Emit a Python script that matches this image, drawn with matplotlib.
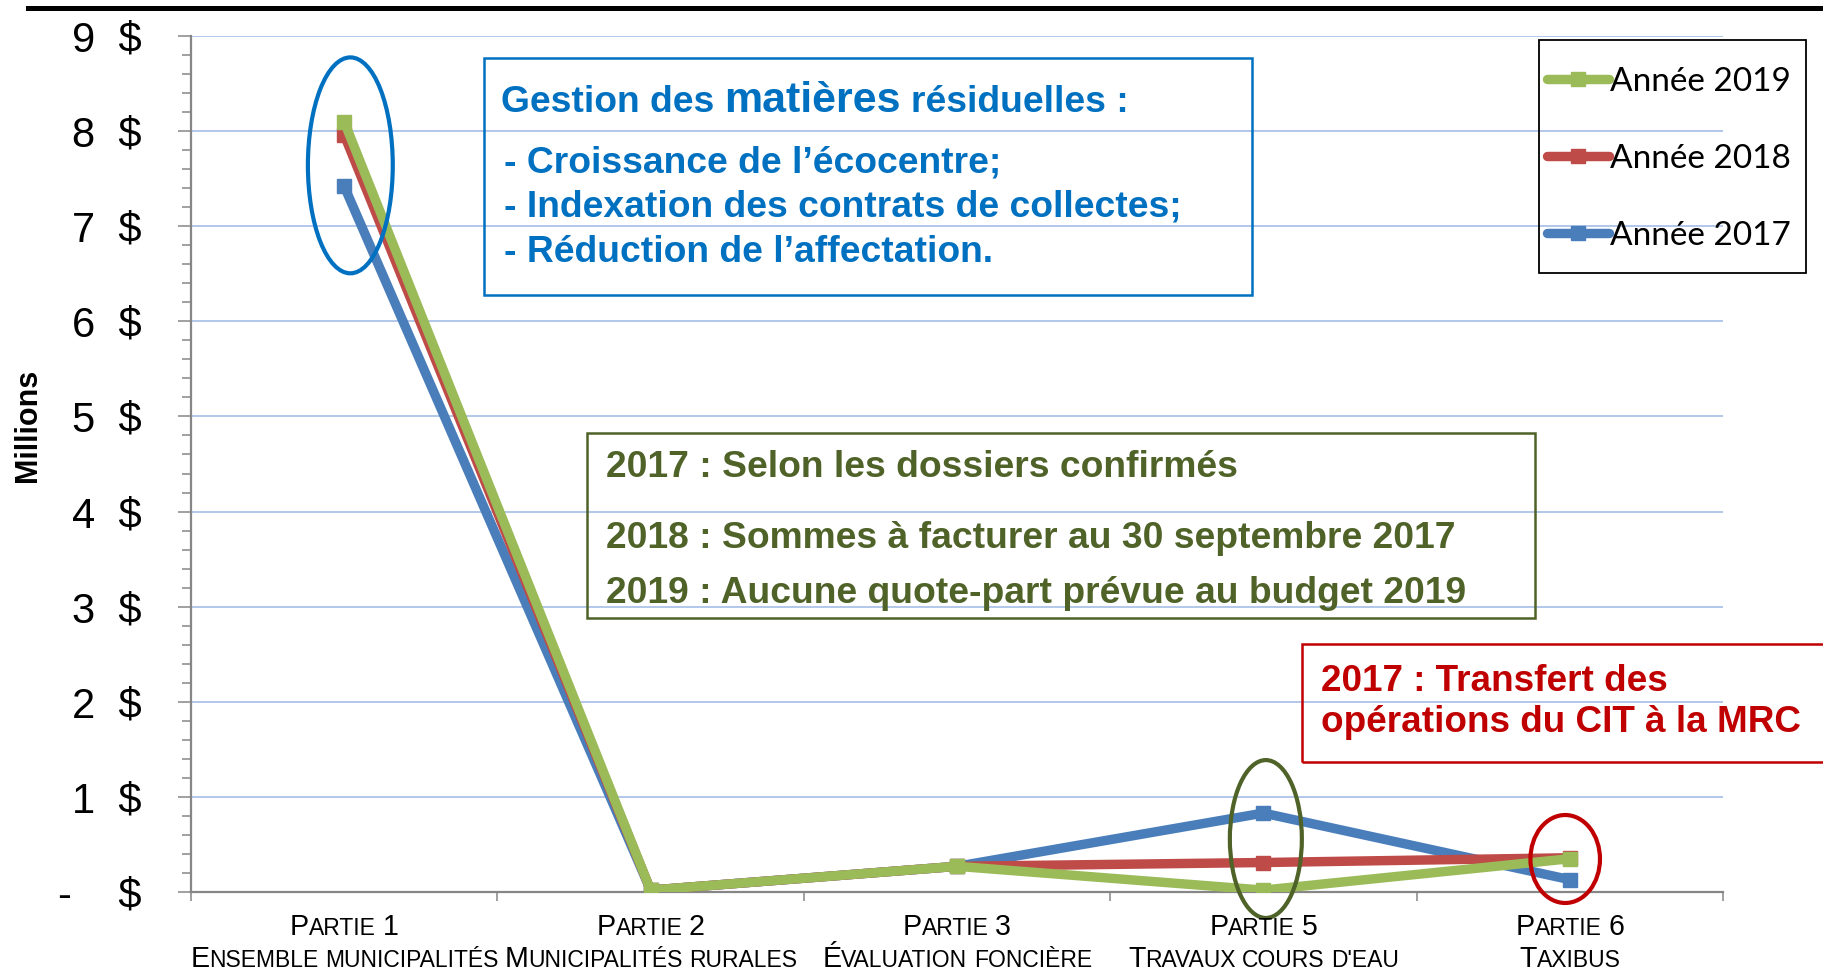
import matplotlib
matplotlib.use("Agg")
import matplotlib.pyplot as plt
from matplotlib.patches import Ellipse, Rectangle
from matplotlib.lines import Line2D
from matplotlib.ticker import MultipleLocator

plt.rcParams["font.family"] = ["Liberation Sans", "DejaVu Sans"]

# Quotes-parts par partie (millions $)
categories = ["Partie 1", "Partie 2", "Partie 3", "Partie 5", "Partie 6"]
subtitles = ["Ensemble municipalités", "Municipalités rurales", "Évaluation foncière",
             "Travaux cours d'eau", "Taxibus"]
annee_2017 = [7.42, 0.02, 0.27, 0.83, 0.13]
annee_2018 = [7.96, 0.02, 0.27, 0.31, 0.36]
annee_2019 = [8.10, 0.02, 0.27, 0.02, 0.35]
y_values = list(range(0, 10))
y_labels = ["-    $"] + [f"{v}  $" for v in range(1, 10)]

BLUE = "#4A7EBB"
RED = "#BE4B48"
GREEN = "#9BBB59"
NOTE_BLUE = "#0070C0"
NOTE_GREEN = "#4F6228"
NOTE_RED = "#C00000"

W, H = 1823, 971
fig = plt.figure(figsize=(W / 100, H / 100), dpi=100)
ax = fig.add_axes([191 / W, 1 - 892 / H, (1723 - 191) / W, (892 - 36) / H])
renderer = fig.canvas.get_renderer()


def px(x, y):
    # pixel position (from top-left) to figure fraction
    return x / W, 1 - y / H


def draw_runs(pieces, x, y, color, weight="normal", align="left"):
    """Draw a line made of text runs of different sizes; gaps are (None, size)."""
    items = []
    for txt, size in pieces:
        if txt is None:
            items.append((None, size * 0.278 * 100 / 72))
            continue
        t = fig.text(0, 0, txt, fontsize=size, color=color, weight=weight,
                     ha="left", va="baseline")
        items.append((t, t.get_window_extent(renderer).width))
    total = sum(w for _, w in items)
    cur = x - total / 2 if align == "center" else x
    for t, w in items:
        if t is not None:
            t.set_position(px(cur, y))
        cur += w


def small_caps(text, big, small):
    pieces = []
    for wi, word in enumerate(text.split(" ")):
        if wi > 0:
            pieces.append((None, small))
        run, run_big = "", None
        for ch in word:
            b = ch.isupper() or ch.isdigit()
            if run and b != run_big:
                pieces.append((run, big if run_big else small))
                run = ""
            run += ch.upper()
            run_big = b
        pieces.append((run, big if run_big else small))
    return pieces


x = list(range(len(categories)))
for vals, col, lab in [(annee_2017, BLUE, "Année 2017"),
                       (annee_2018, RED, "Année 2018"),
                       (annee_2019, GREEN, "Année 2019")]:
    ax.plot(x, vals, color=col, lw=6.8, marker="s", ms=10.5, label=lab,
            solid_capstyle="round", zorder=3)

ax.set_xlim(-0.5, len(categories) - 0.5)
ax.set_ylim(0, 9)
ax.set_yticks(y_values)
ax.set_yticklabels(y_labels, fontsize=30)
ax.yaxis.set_minor_locator(MultipleLocator(0.2))
ax.set_xticks([i - 0.5 for i in range(len(categories) + 1)])
ax.set_xticklabels([])
ax.tick_params(axis="y", which="major", length=9.5, width=1.1, color="#868686", pad=26)
ax.tick_params(axis="y", which="minor", length=6.5, width=1.1, color="#868686")
ax.tick_params(axis="x", length=6.5, width=1.1, color="#868686")
ax.grid(axis="y", which="major", color="#A6BDE5", lw=1.2)
ax.set_axisbelow(True)
for s in ["top", "right"]:
    ax.spines[s].set_visible(False)
for s in ["left", "bottom"]:
    ax.spines[s].set_color("#868686")
    ax.spines[s].set_linewidth(1.6)

fig.text(*px(28, 425), "Millions", rotation=90, fontsize=22, weight="bold",
         ha="center", va="center")

# category labels in small caps
for i, (cat, sub) in enumerate(zip(categories, subtitles)):
    cx = ax.transData.transform((i, 0))[0]
    draw_runs(small_caps(cat, 20.6, 16.5), cx, 935, "black", align="center")
    draw_runs(small_caps(sub, 20.6, 16.5), cx, 967, "black", align="center")

# ellipses around highlighted points
ax.add_patch(Ellipse((0.02, 7.64), 0.277, 2.27, fill=False, ec=NOTE_BLUE, lw=3,
                     clip_on=False, zorder=5))
ax.add_patch(Ellipse((3.008, 0.557), 0.235, 1.66, fill=False, ec=NOTE_GREEN, lw=3,
                     clip_on=False, zorder=5))
ax.add_patch(Ellipse((3.985, 0.347), 0.227, 0.925, fill=False, ec=NOTE_RED, lw=3,
                     clip_on=False, zorder=5))


# note boxes
def box(x0, y0, x1, y1, color, lw=1.8):
    fx0, fy1 = px(x0, y0)
    fx1, fy0 = px(x1, y1)
    fig.add_artist(Rectangle((fx0, fy0), fx1 - fx0, fy1 - fy0, fill=False,
                             ec=color, lw=lw, transform=fig.transFigure))


box(484, 58, 1252, 295, NOTE_BLUE)
draw_runs([("Gestion des", 26.8), (None, 26.8), ("matières", 31), (None, 26.8),
           ("résiduelles :", 26.8)], 501, 112, NOTE_BLUE, weight="bold")
for yy, line in zip([172, 217, 262], ["- Croissance de l’écocentre;",
                                      "- Indexation des contrats de collectes;",
                                      "- Réduction de l’affectation."]):
    fig.text(*px(504, yy), line, fontsize=26.8, weight="bold", color=NOTE_BLUE,
             va="baseline")

box(587, 433, 1535, 618, NOTE_GREEN)
for yy, line in zip([477, 548, 603], ["2017 : Selon les dossiers confirmés",
                                      "2018 : Sommes à facturer au 30 septembre 2017",
                                      "2019 : Aucune quote-part prévue au budget 2019"]):
    fig.text(*px(606, yy), line, fontsize=26.8, weight="bold", color=NOTE_GREEN,
             va="baseline")

box(1302, 644, 1830, 762, NOTE_RED)
for yy, line in zip([691, 732], ["2017 : Transfert des", "opérations du CIT à la MRC"]):
    fig.text(*px(1321, yy), line, fontsize=26.6, weight="bold", color=NOTE_RED,
             va="baseline")

# legend (frame drawn separately)
handles, labels = ax.get_legend_handles_labels()
fig.legend(handles[::-1], labels[::-1], loc="center",
           bbox_to_anchor=px(1669, 159), bbox_transform=fig.transFigure,
           prop={"family": ["Lato", "DejaVu Sans"], "size": 24},
           frameon=False, borderpad=0, labelspacing=1.41, handlelength=1.86,
           handletextpad=0.05)
box(1539, 40, 1806, 273, "black", lw=1.3)

# top rule
fig.add_artist(Line2D([28 / W, 1], [1 - 8 / H] * 2, color="black", lw=3.6,
                      transform=fig.transFigure))

fig.savefig("out.png", dpi=100)
